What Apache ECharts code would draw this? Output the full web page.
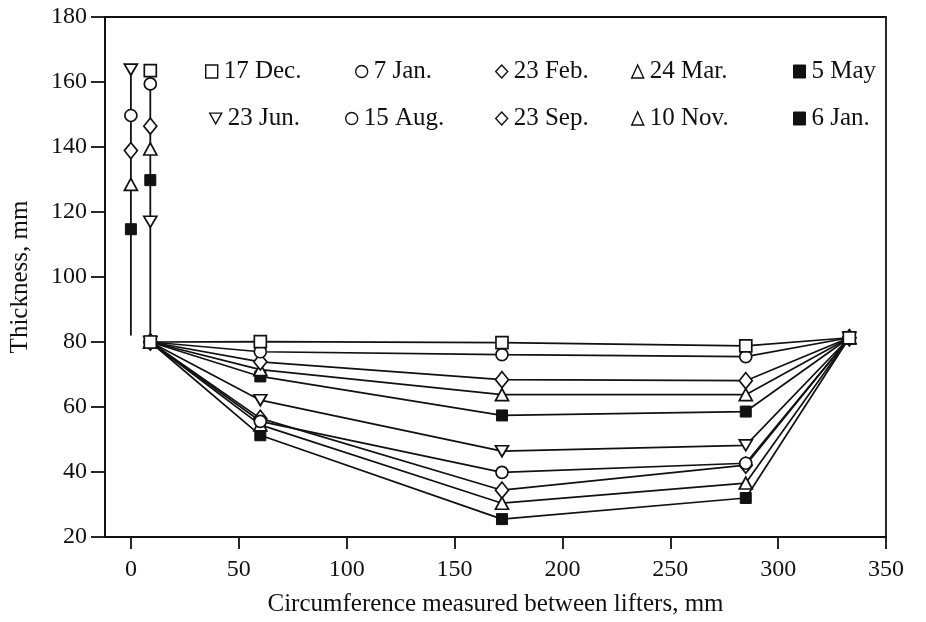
<!DOCTYPE html>
<html>
<head>
<meta charset="utf-8">
<script src="https://cdn.jsdelivr.net/npm/echarts@6/dist/echarts.min.js"></script>
<style>
html,body{margin:0;padding:0;background:#fff;}
#c{width:926px;height:622px;}
</style>
</head>
<body>
<div id="c"></div>
<script>
// ---- data ----
const seriesNames = ['17 Dec.', '7 Jan.', '23 Feb.', '24 Mar.', '5 May',
                     '23 Jun.', '15 Aug.', '23 Sep.', '10 Nov.', '6 Jan.'];
const xPos = [9, 60, 172, 285, 333];
const dec17 = [80, 80.1, 79.8, 78.8, 81.3];
const jan7  = [80, 77.0, 76.1, 75.5, 81.3];
const feb23 = [80, 73.9, 68.4, 68.1, 81.3];
const mar24 = [80, 71.5, 63.8, 63.8, 81.3];
const may5  = [80, 69.4, 57.4, 58.6, 81.3];
const jun23 = [80, 62.1, 46.4, 48.2, 81.3];
const aug15 = [80, 55.6, 39.9, 42.7, 81.3];
const sep23 = [80, 56.5, 34.4, 42.1, 81.3];
const nov10 = [80, 54.5, 30.4, 36.6, 81.3];
const jan6  = [80, 51.3, 25.5, 32.0, 81.3];
const seriesValues = [dec17, jan7, feb23, mar24, may5, jun23, aug15, sep23, nov10, jan6];

// lifter readings (two vertical lines)
const lifterX = [0, 9];
const lifterBottom = [82, 80];
const lifterTop = [163.8, 163.5];
const lifterAt0 = [null, null, null, null, null, 163.8, 149.7, 138.9, 128.5, 114.7];
const lifterAt9 = [163.5, 159.4, 146.4, 139.4, 129.8, 117.0, null, null, null, null];

const xTicks = [0, 50, 100, 150, 200, 250, 300, 350];

// ---- styles ----
const FONT = 'Liberation Serif';
const INK = '#111';
const triDown = 'path://M0,0L10,0L5,9Z';
const symbolOf = [ 'rect', 'circle', 'diamond', 'triangle', 'rect',
                   triDown, 'circle', 'diamond', 'triangle', 'rect'];
const filled = [false, false, false, false, true, false, false, false, false, true];
const sizeOf = [12, 12, [13, 16], [13, 12], 11, [13, 11], 12, [13, 16], [13, 12], 11];
const legendLeft = [205, 355, 495, 631, 793, 209, 345, 495, 631, 793];
const legendTop  = [58, 58, 58, 58, 58, 105, 105, 105, 105, 105];

function itemStyle(i) {
  return filled[i]
    ? { color: INK, borderColor: INK, borderWidth: 1, opacity: 1 }
    : { color: '#fff', borderColor: INK, borderWidth: 1.7, opacity: 1 };
}

const series = [];
// vertical lifter lines
lifterX.forEach((x, k) => {
  series.push({
    type: 'line', silent: true, symbol: 'none', z: 1,
    data: [[x, lifterBottom[k]], [x, lifterTop[k]]],
    lineStyle: { color: INK, width: 1.8 }
  });
});
seriesNames.forEach((name, i) => {
  series.push({
    name: name, type: 'line',
    data: xPos.map((x, j) => [x, seriesValues[i][j]]),
    symbol: symbolOf[i], symbolSize: sizeOf[i], showAllSymbol: true,
    lineStyle: { color: INK, width: 1.7 },
    itemStyle: itemStyle(i),
    z: 20 - i,
    animation: false
  });
  const pts = [];
  if (lifterAt0[i] != null) pts.push([lifterX[0], lifterAt0[i]]);
  if (lifterAt9[i] != null) pts.push([lifterX[1], lifterAt9[i]]);
  if (pts.length) {
    series.push({
      name: name, type: 'scatter', data: pts,
      symbol: symbolOf[i], symbolSize: sizeOf[i],
      itemStyle: itemStyle(i), z: 30, animation: false
    });
  }
});

const legends = seriesNames.map((name, i) => ({
  left: legendLeft[i], top: legendTop[i] + 1, orient: 'horizontal',
  itemWidth: 12, itemHeight: 13, itemGap: 0, padding: 0,
  selectedMode: false,
  data: [{ name: name, icon: symbolOf[i],
           itemStyle: filled[i] ? { color: INK, borderColor: INK, borderWidth: 1, opacity: 1 }
                                : { color: '#fff', borderColor: INK, borderWidth: 1.4, opacity: 1 } }],
  textStyle: { fontFamily: FONT, fontSize: 25, color: INK, padding: [0, 0, 0, 1] }
}));

const chart = echarts.init(document.getElementById('c'), null, { renderer: 'canvas' });
chart.setOption({
  animation: false,
  backgroundColor: '#fff',
  legend: legends,
  grid: { left: 104, right: 40, top: 17, bottom: 84, show: true,
          borderColor: INK, borderWidth: 1.8, backgroundColor: 'transparent' },
  xAxis: {
    type: 'value', min: -12, max: 350,
    name: 'Circumference measured between lifters, mm',
    nameLocation: 'middle', nameGap: 55,
    nameTextStyle: { fontFamily: FONT, fontSize: 25, color: INK },
    axisLine: { show: true, onZero: false, lineStyle: { color: INK, width: 1.8 } },
    axisTick: { show: true, inside: false, length: 12, customValues: xTicks,
                lineStyle: { color: INK, width: 1.8 } },
    axisLabel: { customValues: xTicks, margin: 21, fontFamily: FONT, fontSize: 24, color: INK },
    splitLine: { show: false }
  },
  yAxis: {
    type: 'value', min: 20, max: 180, interval: 20,
    name: 'Thickness, mm', nameLocation: 'middle', nameGap: 72,
    nameTextStyle: { fontFamily: FONT, fontSize: 25, color: INK },
    axisLine: { show: true, onZero: false, lineStyle: { color: INK, width: 1.8 } },
    axisTick: { show: true, inside: false, length: 14, lineStyle: { color: INK, width: 1.8 } },
    axisLabel: { margin: 18, fontFamily: FONT, fontSize: 24, color: INK },
    splitLine: { show: false }
  },
  series: series
});
</script>
</body>
</html>
